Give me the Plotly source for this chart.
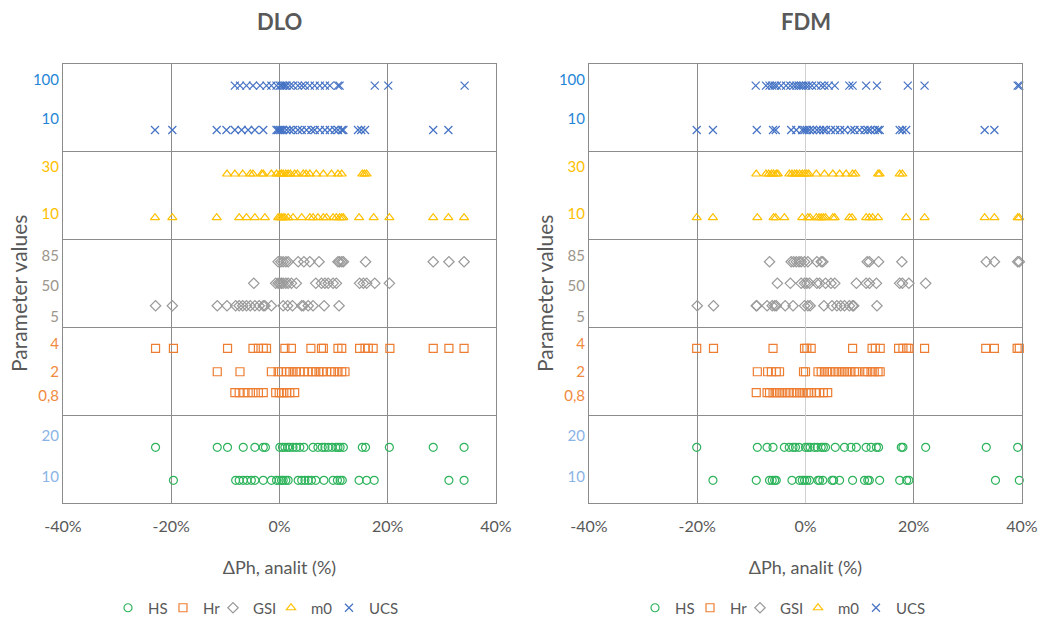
import plotly.graph_objects as go

# ---- parameter levels (tick labels of each band) ----
hs_levels = ["20", "10"]
hr_levels = ["4", "2", "0,8"]
gsi_levels = ["85", "50", "5"]
m0_levels = ["30", "10"]
ucs_levels = ["100", "10"]

# ---- ΔPh, analit (%) : DLO ----
dlo_ucs_100 = [-8.25, -7.3, -6.1, -4.9, -3.6, -2.4, -1.5, -0.55, 0.06, 0.37, 0.68, 1.0, 1.3, 1.9, 2.5, 3.4,
               4.1, 4.7, 5.6, 6.5, 7.45, 8.4, 9.3, 10.8, 11.1, 17.6, 20.1, 34.2]
dlo_ucs_10 = [-23.0, -19.8, -11.6, -9.8, -8.25, -7.0, -5.8, -4.55, -3.0, -0.55, -0.25, 0.06, 0.37, 0.68, 1.3,
              1.9, 2.5, 3.4, 4.1, 5.0, 5.9, 6.5, 7.45, 8.4, 9.3, 10.2, 10.8, 11.5, 11.8, 14.5, 15.1, 15.8,
              28.4, 31.2]
dlo_m0_30 = [-9.7, -8.25, -6.8, -5.4, -4.9, -3.3, -3.0, -1.5, -0.55, 0.06, 0.37, 0.68, 1.17, 1.6, 2.0, 2.8,
             3.3, 4.4, 4.9, 5.6, 6.8, 8.1, 9.6, 10.8, 11.5, 15.3, 15.7, 16.1]
dlo_m0_10 = [-23.0, -19.8, -11.6, -7.45, -6.1, -4.55, -2.7, -0.25, 0.06, 0.37, 0.68, 1.0, 1.6, 2.5, 4.1, 5.6,
             6.2, 7.1, 8.1, 8.7, 9.9, 10.5, 11.1, 11.5, 11.8, 14.7, 17.4, 20.3, 28.4, 31.2, 34.1]
dlo_gsi_85 = [-0.25, 0.25, 0.68, 1.17, 1.6, 3.45, 4.5, 5.6, 7.3, 10.8, 11.1, 11.5, 11.8, 15.9, 28.4, 31.3, 34.1]
dlo_gsi_50 = [-4.75, -0.7, -0.25, 0.06, 0.37, 0.68, 1.17, 1.6, 2.2, 3.1, 6.7, 7.75, 8.4, 9.0, 9.9, 10.5, 14.8,
              15.5, 16.1, 17.6, 20.3]
dlo_gsi_5 = [-22.9, -19.8, -11.5, -9.7, -8.1, -7.45, -6.8, -6.1, -5.4, -4.55, -3.75, -3.0, -2.7, -1.5, 0.68,
             1.5, 2.4, 4.1, 4.4, 5.3, 6.2, 8.25, 11.0]
dlo_hr_4 = [-22.9, -19.6, -9.6, -4.9, -3.9, -3.0, -2.4, 1.0, 2.2, 5.8, 7.75, 8.1, 10.8, 11.5, 14.8, 15.8, 16.4,
            17.3, 20.4, 28.4, 31.3, 34.1]
dlo_hr_2 = [-11.5, -7.3, -1.5, -0.25, 0.37, 1.3, 1.9, 2.5, 3.1, 3.75, 4.5, 5.3, 6.1, 6.7, 7.3, 7.9, 8.7, 9.6,
            10.2, 10.8, 11.5, 12.1]
dlo_hr_08 = [-8.25, -7.45, -6.6, -5.8, -4.9, -3.9, -3.0, -0.7, -0.06, 0.37, 0.8, 1.3, 1.9, 2.8]
dlo_hs_20 = [-22.9, -11.5, -9.6, -6.7, -4.55, -3.0, -2.6, 0.06, 0.55, 1.0, 1.5, 1.9, 2.5, 3.1, 3.75, 4.5, 6.2,
             7.1, 7.9, 8.4, 9.0, 9.7, 10.4, 10.8, 11.2, 11.8, 15.3, 15.9, 20.3, 28.4, 34.1]
dlo_hs_10 = [-19.6, -8.1, -7.45, -6.7, -6.0, -5.2, -4.55, -3.0, -1.5, -0.55, -0.06, 0.37, 0.68, 1.17, 1.6, 3.45,
             4.1, 4.7, 5.3, 5.9, 6.7, 8.2, 9.9, 10.7, 11.2, 11.6, 14.7, 16.1, 17.5, 31.3, 34.1]

# ---- ΔPh, analit (%) : FDM ----
fdm_ucs_100 = [-9.2, -7.3, -6.65, -6.15, -5.7, -5.3, -4.5, -3.6, -2.8, -2.2, -1.7, -1.2, -0.8, -0.37, 0.12, 0.6,
               1.2, 2.0, 2.9, 3.5, 4.3, 5.4, 8.1, 8.7, 11.2, 13.2, 18.9, 22.0, 39.2, 39.5]
fdm_ucs_10 = [-20.1, -17.1, -9.0, -6.0, -5.5, -2.65, -1.7, -0.6, -0.18, 0.25, 0.74, 1.35, 2.1, 2.7, 3.3, 3.8,
              4.7, 5.5, 6.4, 7.2, 8.4, 9.05, 10.0, 10.9, 11.5, 12.0, 12.8, 13.4, 13.7, 17.4, 17.9, 18.6, 33.1,
              34.9]
fdm_m0_30 = [-9.1, -7.3, -6.8, -6.3, -5.9, -5.4, -5.1, -3.0, -2.5, -2.0, -1.6, -1.1, -0.6, -0.18, 0.25, 0.6,
             2.0, 3.5, 5.05, 6.3, 7.5, 8.7, 9.2, 13.4, 13.7, 17.4, 17.9]
fdm_m0_10 = [-20.1, -17.1, -8.9, -5.9, -5.5, -3.9, -0.6, 0.43, 0.86, 2.0, 2.5, 2.9, 3.3, 3.7, 5.05, 5.4, 8.1,
             8.6, 11.2, 11.8, 12.4, 13.4, 18.6, 22.0, 33.1, 34.9, 39.2, 39.5]
fdm_gsi_85 = [-6.65, -2.65, -2.2, -1.7, -1.2, -0.8, -0.18, 0.43, 2.1, 2.9, 3.2, 11.4, 11.8, 13.5, 17.8, 33.4,
              34.9, 39.2, 39.5]
fdm_gsi_50 = [-5.2, -2.8, -0.8, -0.18, 0.25, 0.74, 2.1, 2.6, 3.7, 4.7, 5.4, 9.4, 11.2, 11.8, 13.1, 17.4, 17.9,
              19.1, 22.2]
fdm_gsi_5 = [-20.0, -17.0, -9.1, -9.0, -7.1, -6.15, -5.7, -5.4, -3.75, -2.3, -0.18, 0.43, 0.86, 3.4, 4.9, 5.8,
             6.5, 7.2, 8.1, 8.7, 8.9, 13.2]
fdm_hr_4 = [-20.1, -17.0, -6.0, -0.18, 0.25, 1.05, 8.7, 12.3, 12.9, 13.8, 17.2, 18.0, 18.7, 19.1, 22.0, 33.3,
            34.9, 39.1, 39.5]
fdm_hr_2 = [-8.9, -7.0, -6.3, -5.4, -4.8, -0.37, 0.0, 2.3, 2.9, 3.5, 4.1, 4.7, 5.4, 6.0, 6.6, 7.2, 7.8, 8.4,
            9.05, 9.7, 10.9, 11.5, 12.1, 12.7, 13.4, 13.8]
fdm_hr_08 = [-9.1, -7.1, -6.65, -6.0, -5.4, -4.8, -4.2, -3.6, -3.0, -2.3, -1.7, -1.1, -0.5, 0.12, 0.6, 1.05,
             2.0, 2.6, 3.3, 4.1]
fdm_hs_20 = [-20.1, -8.9, -7.1, -6.0, -3.9, -3.0, -2.3, -1.85, -1.2, 0.0, 0.43, 0.86, 1.66, 2.2, 2.9, 3.3, 3.7,
             5.5, 7.2, 8.4, 9.4, 11.2, 12.1, 13.1, 13.5, 17.7, 18.0, 22.2, 33.4, 39.2]
fdm_hs_10 = [-17.1, -9.1, -6.65, -6.15, -5.7, -5.4, -2.5, -1.1, -0.6, -0.18, 0.25, 0.74, 2.3, 2.6, 3.2, 4.9,
             5.2, 6.3, 8.7, 10.9, 11.5, 11.8, 13.7, 17.4, 18.7, 19.1, 35.1, 39.5]

x_ticks = [-40, -20, 0, 20, 40]

# ---- styling ----
FONT = "Lato, 'Open Sans', sans-serif"
TEXT = "#595959"
GRID = "#8c8c8c"

PARAMS = ["HS", "Hr", "GSI", "m0", "UCS"]
COLORS = {"HS": "#2DB35B", "Hr": "#ED7D31", "GSI": "#9A9A9A", "m0": "#FFC000", "UCS": "#4472C4"}
LABEL_COLORS = {"HS": "#8AB4E6", "Hr": "#F08A3E", "GSI": "#9C958C", "m0": "#FFC000", "UCS": "#1F86D6"}
SYMBOLS = {"HS": "circle-open", "Hr": "square-open", "GSI": "diamond-open",
           "m0": "triangle-up-open", "UCS": "x-thin-open"}
SIZES = {"HS": 8, "Hr": 8, "GSI": 8, "m0": 8, "UCS": 8}
LEGEND_W = {"HS": 10, "Hr": 5, "GSI": 13, "m0": 13, "UCS": 30}
LEVELS = {"HS": hs_levels, "Hr": hr_levels, "GSI": gsi_levels, "m0": m0_levels, "UCS": ucs_levels}

# each parameter owns a band of height 1 (HS at the bottom, UCS at the top);
# rows and tick labels sit at fixed heights inside the band
BAND = {"HS": 0, "Hr": 1, "GSI": 2, "m0": 3, "UCS": 4}
ROW_OFFSET = {"HS": [0.634, 0.258], "Hr": [0.762, 0.495, 0.256], "GSI": [0.748, 0.502, 0.247],
              "m0": [0.747, 0.250], "UCS": [0.753, 0.248]}
LABEL_OFFSET = {"HS": [0.769, 0.300], "Hr": [0.811, 0.495, 0.219], "GSI": [0.813, 0.477, 0.124],
                "m0": [0.827, 0.297], "UCS": [0.823, 0.379]}

panels = [
    ("DLO", "x", "y", "legend", {
        "HS": [dlo_hs_20, dlo_hs_10], "Hr": [dlo_hr_4, dlo_hr_2, dlo_hr_08],
        "GSI": [dlo_gsi_85, dlo_gsi_50, dlo_gsi_5], "m0": [dlo_m0_30, dlo_m0_10],
        "UCS": [dlo_ucs_100, dlo_ucs_10]}),
    ("FDM", "x2", "y2", "legend2", {
        "HS": [fdm_hs_20, fdm_hs_10], "Hr": [fdm_hr_4, fdm_hr_2, fdm_hr_08],
        "GSI": [fdm_gsi_85, fdm_gsi_50, fdm_gsi_5], "m0": [fdm_m0_30, fdm_m0_10],
        "UCS": [fdm_ucs_100, fdm_ucs_10]}),
]

fig = go.Figure()
for title, xa, ya, leg, series in panels:
    for p in PARAMS:
        xs, ys = [], []
        for rows, off in zip(series[p], ROW_OFFSET[p]):
            xs += rows
            ys += [BAND[p] + off] * len(rows)
        fig.add_trace(go.Scatter(
            x=xs, y=ys, mode="markers", name=p, xaxis=xa, yaxis=ya, legend=leg,
            legendwidth=LEGEND_W[p], cliponaxis=False,
            marker=dict(symbol=SYMBOLS[p], size=SIZES[p], color=COLORS[p],
                        line=dict(color=COLORS[p], width=1.2)),
        ))

# coloured tick labels for the parameter levels
tick_vals, tick_text = [], []
for p in PARAMS:
    for lvl, off in zip(LEVELS[p], LABEL_OFFSET[p]):
        tick_vals.append(BAND[p] + off)
        tick_text.append(f"<span style='color:{LABEL_COLORS[p]}'>{lvl}</span>")

x_text = [f"{v}%" for v in x_ticks]

H, W = 623, 1043
y_dom = [1 - 503 / H, 1 - 64 / H]
x_doms = [[63 / W, 496 / W], [589 / W, 1022 / W]]

common_x = dict(range=[-40, 40], tickvals=x_ticks, ticktext=x_text, showgrid=True, gridcolor=GRID,
                gridwidth=1, showline=True, linecolor=GRID, linewidth=1, mirror=True, ticks="",
                tickfont=dict(size=16, color=TEXT, family=FONT), ticklabelstandoff=9, automargin=False,
                title=dict(text="ΔPh, analit (%)", font=dict(size=18, color=TEXT, family=FONT), standoff=27),
                fixedrange=True)
common_y = dict(range=[0, 5], tickvals=tick_vals, ticktext=tick_text, showgrid=False, zeroline=False,
                showline=True, linecolor=GRID, linewidth=1, mirror=True, ticks="", automargin=False,
                tickfont=dict(size=15, family=FONT),
                minor=dict(tickvals=[1, 2, 3, 4], showgrid=True, gridcolor=GRID, gridwidth=1, ticks=""),
                fixedrange=True)

legend_common = dict(orientation="h", xanchor="left", y=1 - 608 / H, yanchor="middle",
                     font=dict(size=15, color=TEXT, family=FONT), itemwidth=30, bgcolor="rgba(0,0,0,0)")

fig.update_layout(
    width=W, height=H, margin=dict(l=0, r=0, t=0, b=0, autoexpand=False),
    paper_bgcolor="white", plot_bgcolor="white",
    font=dict(family=FONT, color=TEXT),
    xaxis=dict(domain=x_doms[0], anchor="y", zeroline=False, **common_x),
    yaxis=dict(domain=y_dom, anchor="x", **common_y),
    xaxis2=dict(domain=x_doms[1], anchor="y2", zeroline=True, zerolinecolor="#d0d0d0", zerolinewidth=1,
                **common_x),
    yaxis2=dict(domain=y_dom, anchor="x2", **common_y),
    legend=dict(x=108 / W, **legend_common),
    legend2=dict(x=635 / W, **legend_common),
    showlegend=True,
)

for title, xa, ya, leg, series in panels:
    dom = x_doms[0] if xa == "x" else x_doms[1]
    # panel title
    fig.add_annotation(text=f"<b>{title}</b>", x=(dom[0] + dom[1]) / 2, y=1 - 22 / H, xref="paper",
                       yref="paper", xanchor="center", yanchor="middle", showarrow=False,
                       font=dict(size=22, color=TEXT, family=FONT))
    # vertical axis title, 45 px left of the plot area
    fig.add_annotation(text="Parameter values", textangle=-90, x=dom[0] - 45 / W, y=1 - 294 / H,
                       xref="paper", yref="paper", showarrow=False, xanchor="center", yanchor="middle",
                       font=dict(size=21, color=TEXT, family=FONT))

fig.write_html("out.html")
